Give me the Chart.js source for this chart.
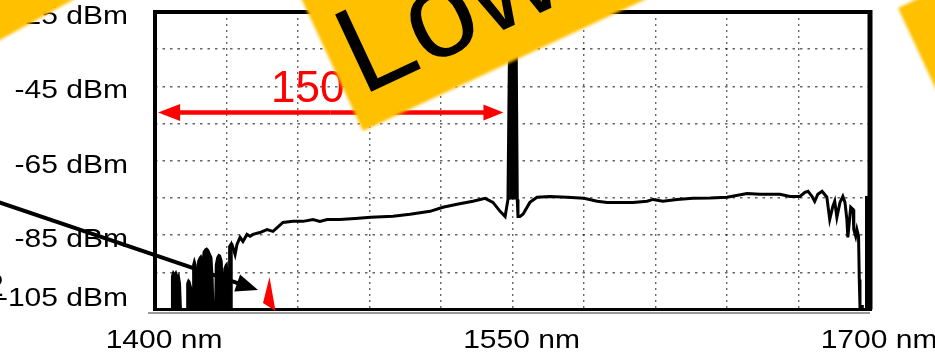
<!DOCTYPE html>
<html>
<head>
<meta charset="utf-8">
<script src="https://cdn.jsdelivr.net/npm/chart.js@4.4.1/dist/chart.umd.min.js"></script>
<style>
  html, body { margin: 0; padding: 0; background: #fff; }
  #wrap { width: 935px; height: 361px; position: relative; overflow: hidden; }
</style>
</head>
<body>
<div id="wrap"><canvas id="spec" width="935" height="361"></canvas></div>
<script>
// ─── Axes ─────────────────────────────────────────────────────────────────
const xTicks = [1400, 1430, 1460, 1490, 1520, 1550, 1580, 1610, 1640, 1670, 1700];
const xLabels = ['1400 nm', '', '', '', '', '1550 nm', '', '', '', '', '1700 nm'];
const yTicks = [-105, -95, -85, -75, -65, -55, -45, -35, -25];
const yLabels = ['-105 dBm', '', '-85 dBm', '', '-65 dBm', '', '-45 dBm', '', '-25 dBm'];

// ─── Spectrum ─────────────────────────────────────────────────────────────
// noise bursts below the cut-on, filled to the floor
const noiseWl  = [1400, 1406.8, 1407.0, 1407.6, 1408.2, 1408.8, 1409.4, 1410.0, 1410.6, 1411.0,
                  1413.2, 1413.4, 1414.0, 1414.6, 1415.2, 1415.4,
                  1415.7, 1415.9, 1416.5, 1417.2, 1417.6, 1418.0, 1418.7, 1419.3, 1419.9, 1420.3,
                  1421.0, 1421.7, 1422.4, 1423.1, 1423.8, 1424.3, 1424.6,
                  1425.1, 1425.4, 1426.0, 1426.7, 1427.4, 1428.1, 1428.6, 1429.0, 1429.6, 1430.2,
                  1430.7, 1431.0, 1431.5, 1432.0, 1432.3];
const noiseDbm = [-105, -105, -96, -94.8, -95.5, -94.8, -96, -95.5, -98, -105,
                  -105, -98, -97, -97.5, -99, -105,
                  -105, -93, -91.5, -93, -100, -92, -91, -90.5, -92, -89.5,
                  -88.8, -88.5, -89, -90, -91, -97, -105,
                  -105, -93, -91, -90.2, -90.5, -92, -100, -94, -93, -92.5,
                  -97, -88, -87.5, -87, -105];

// main trace
const traceWl  = [1431.5, 1432.3, 1433.6, 1434.4, 1435.7, 1436.9, 1438.6, 1439.9, 1441.1, 1444.0,
                  1447.0, 1449.5, 1453.7, 1457.9, 1462.1, 1466.3, 1469.2, 1472.2, 1477.6, 1484.0,
                  1490.6, 1499.9, 1507.0, 1515.4, 1520.8, 1526.7, 1533.4, 1538.5, 1541.8, 1544.8,
                  1546.9, 1548.1, 1548.8, 1551.5, 1552.0,
                  1552.3, 1553.1, 1554.4, 1557.3, 1560.3, 1565.7, 1572.9, 1580.0,
                  1585.5, 1589.7, 1595.1, 1600.6, 1606.4, 1609.0, 1613.1, 1619.0, 1625.7, 1633.0,
                  1640.0, 1648.4, 1653.8, 1662.2, 1666.4, 1670.6, 1672.7, 1674.0, 1675.7, 1676.8,
                  1678.1, 1679.9, 1681.9, 1683.1, 1684.4, 1685.2, 1686.1, 1687.4, 1688.6, 1689.5,
                  1690.3, 1690.7, 1691.9, 1692.9, 1693.2, 1694.0, 1694.5, 1695.2, 1695.5, 1695.8,
                  1696.2, 1697.4];
const traceDbm = [-87.5, -87.5, -90.2, -87.5, -85.6, -86.7, -84.8, -85.3, -84.8, -84.3,
                  -83.5, -84.0, -81.6, -81.3, -81.3, -80.8, -81.3, -80.8, -80.8, -80.5,
                  -80.2, -79.9, -79.4, -78.6, -77.5, -76.7, -75.9, -75.1, -76.2, -78.6,
                  -80.0, -75.4, -31, -31, -75.4,
                  -80.0, -80.0, -79.4, -76.2, -74.8, -74.6, -74.8, -75.1,
                  -75.9, -76.2, -76.2, -76.2, -75.9, -75.4, -75.9, -75.4, -75.1, -75.0,
                  -74.8, -73.8, -74.0, -74.0, -74.6, -74.6, -73.5, -73.2, -74.6, -75.9,
                  -74.0, -73.2, -74.8, -80.8, -77.3, -75.9, -80.2, -76.2, -74.6, -76.2,
                  -80.8, -85.6, -77.5, -78.1, -83.5, -85.3, -83.5, -85.3, -96.9, -104.2,
                  -104.2, -104.2];

// the 1550 nm line itself, drawn solid
const peakWl  = [1548.6, 1548.8, 1551.5, 1551.7];
const peakDbm = [-75.4, -31, -31, -75.4];
const peakBase = -75.4;

// block at the long-wavelength edge
const edgeWl  = [1697.9, 1700];
const edgeDbm = [-74.6, -74.6];

const pts = (xs, ys) => xs.map((x, i) => ({ x, y: ys[i] }));

const FONT = '"Liberation Sans", Arial, sans-serif';
const YELLOW = '#FFC000';

function poly(ctx, p) {
  ctx.beginPath();
  ctx.moveTo(p[0][0], p[0][1]);
  for (let i = 1; i < p.length; i++) ctx.lineTo(p[i][0], p[i][1]);
  ctx.closePath();
  ctx.fill();
}

function arrow(ctx, x0, y0, x1, y1, len, half, width) {
  const a = Math.atan2(y1 - y0, x1 - x0), c = Math.cos(a), s = Math.sin(a);
  ctx.lineWidth = width;
  ctx.beginPath();
  ctx.moveTo(x0, y0);
  ctx.lineTo(x1 - len * c * 0.8, y1 - len * s * 0.8);
  ctx.stroke();
  poly(ctx, [[x1, y1], [x1 - len * c + half * s, y1 - len * s - half * c], [x1 - len * c - half * s, y1 - len * s + half * c]]);
}

// ─── Frame, tick labels and the slide overlays ────────────────────────────
const overlay = {
  id: 'overlay',
  afterDraw(chart) {
    const { ctx, chartArea: a, scales: { x, y } } = chart;
    ctx.save();

    // instrument frame
    ctx.strokeStyle = '#000';
    ctx.lineWidth = 4;
    ctx.beginPath();
    ctx.moveTo(a.left, a.bottom);
    ctx.lineTo(a.left, a.top);
    ctx.lineTo(a.right, a.top);
    ctx.stroke();
    ctx.lineWidth = 5;
    ctx.beginPath();
    ctx.moveTo(a.right, a.top - 2);
    ctx.lineTo(a.right, a.bottom);
    ctx.stroke();
    ctx.lineWidth = 3;
    ctx.beginPath();
    ctx.moveTo(a.left - 2, a.bottom);
    ctx.lineTo(a.right + 2, a.bottom);
    ctx.stroke();
    ctx.strokeStyle = '#9a9a9a';
    ctx.lineWidth = 2;
    ctx.beginPath();
    ctx.moveTo(a.left - 7, a.bottom + 3.5);
    ctx.lineTo(a.right, a.bottom + 3.5);
    ctx.stroke();

    // tick labels (scanned type is slightly stretched)
    ctx.fillStyle = '#000';
    ctx.font = '25px ' + FONT;
    ctx.textBaseline = 'middle';
    ctx.textAlign = 'right';
    yTicks.forEach((v, i) => {
      if (!yLabels[i]) return;
      const py = Math.min(y.getPixelForValue(v) + 5, a.bottom - 10);
      ctx.save();
      ctx.translate(a.left - 27, py);
      ctx.scale(1.2, 1);
      ctx.fillText(yLabels[i], 0, 0);
      ctx.restore();
    });
    ctx.textAlign = 'center';
    xTicks.forEach((v, i) => {
      if (!xLabels[i]) return;
      ctx.save();
      ctx.translate(x.getPixelForValue(v) + 9, a.bottom + 32);
      ctx.scale(1.2, 1);
      ctx.fillText(xLabels[i], 0, 0);
      ctx.restore();
    });

    // red span arrow and its label
    const ya = y.getPixelForValue(-52);
    const xl = x.getPixelForValue(1401.3), xr = x.getPixelForValue(1546.2);
    ctx.strokeStyle = '#FF0000';
    ctx.fillStyle = '#FF0000';
    arrow(ctx, (xl + xr) / 2, ya, xr, ya, 20, 8, 4.5);
    arrow(ctx, (xl + xr) / 2, ya, xl, ya, 22, 8.5, 4.5);
    ctx.font = '44px ' + FONT;
    ctx.textAlign = 'left';
    ctx.textBaseline = 'alphabetic';
    ctx.fillText('150', 271, 102);

    // red marker at the cut-on
    poly(ctx, [[263, 303], [269.5, 277], [275.5, 311]]);

    // black pointer
    ctx.strokeStyle = '#000';
    ctx.fillStyle = '#000';
    arrow(ctx, -5, 201, 258, 290, 22, 9, 4);
    ctx.font = '32px ' + FONT;
    ctx.fillText('2', -14, 296);

    // yellow banners
    ctx.fillStyle = YELLOW;
    ctx.filter = 'blur(1.5px)';
    poly(ctx, [[-20, 51], [100, -15], [100, -60], [-20, -60]]);
    const c = Math.cos(25 * Math.PI / 180), s = Math.sin(25 * Math.PI / 180);
    const bl = [363, 131];
    poly(ctx, [bl, [bl[0] + 600 * c, bl[1] - 600 * s],
               [bl[0] + 600 * c - 300 * s, bl[1] - 600 * s - 300 * c],
               [bl[0] - 300 * s, bl[1] - 300 * c]]);
    const tl = [898, 8];
    poly(ctx, [tl, [tl[0] + 200 * c, tl[1] - 200 * s],
               [tl[0] + 200 * c + 400 * s, tl[1] - 200 * s + 400 * c],
               [tl[0] + 400 * s, tl[1] + 400 * c]]);
    ctx.filter = 'none';

    // banner text
    ctx.fillStyle = '#000';
    ctx.translate(362, 96);
    ctx.rotate(-25 * Math.PI / 180);
    ctx.font = '124px ' + FONT;
    ctx.fillText('Low', 0, 0);

    ctx.restore();
  }
};

const gridStyle = { color: 'rgba(0,0,0,0.6)', lineWidth: 1.4, drawTicks: false };

new Chart(document.getElementById('spec'), {
  type: 'line',
  data: {
    datasets: [
      { label: 'noise', data: pts(noiseWl, noiseDbm), borderColor: '#000', backgroundColor: '#000',
        borderWidth: 1.5, fill: 'start', pointRadius: 0, tension: 0 },
      { label: 'trace', data: pts(traceWl, traceDbm), borderColor: '#000',
        borderWidth: 3, fill: false, pointRadius: 0, tension: 0 },
      { label: 'peak', data: pts(peakWl, peakDbm), borderColor: '#000', backgroundColor: '#000',
        borderWidth: 1, fill: { value: peakBase }, pointRadius: 0, tension: 0 },
      { label: 'edge', data: pts(edgeWl, edgeDbm), borderColor: '#000', backgroundColor: '#000',
        borderWidth: 1, fill: 'start', pointRadius: 0, tension: 0 },
    ],
  },
  options: {
    responsive: false,
    animation: false,
    layout: { padding: { top: 12, right: 65, left: 0, bottom: 0 } },
    plugins: { legend: { display: false }, tooltip: { enabled: false } },
    scales: {
      x: {
        type: 'linear', min: 1400, max: 1700,
        afterBuildTicks: s => { s.ticks = xTicks.map(v => ({ value: v })); },
        afterFit: s => { s.height = 51.5; },
        ticks: { display: false },
        grid: gridStyle,
        border: { display: false, dash: [2, 4] },
      },
      y: {
        type: 'linear', min: -105, max: -25,
        afterBuildTicks: s => { s.ticks = yTicks.map(v => ({ value: v })); },
        afterFit: s => { s.width = 155; },
        ticks: { display: false },
        grid: gridStyle,
        border: { display: false, dash: [2.5, 5] },
      },
    },
  },
  plugins: [overlay],
});
</script>
</body>
</html>
